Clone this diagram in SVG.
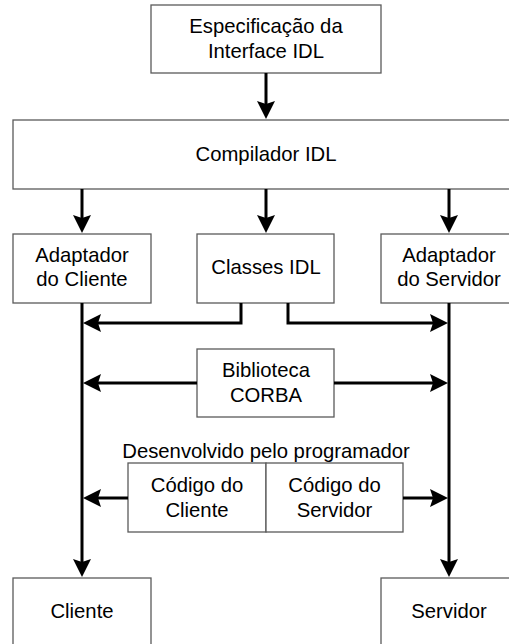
<svg xmlns="http://www.w3.org/2000/svg" width="509" height="644" viewBox="0 0 509 644">
<style>
.box{fill:#fff;stroke:#5a5a5a;stroke-width:1.3}
.t{font-family:"Liberation Sans",Arial,sans-serif;font-size:20.3px;fill:#000;text-anchor:middle}
.c{fill:none;stroke:#000;stroke-width:3}
</style>
<defs>
<marker id="ah" markerUnits="userSpaceOnUse" markerWidth="19" markerHeight="19" viewBox="0 0 19 19" refX="8" refY="9" orient="auto">
<path d="M0,0 L18,9 L0,18 L3,9 z" fill="#000"/>
</marker>
</defs>
<rect width="509" height="644" fill="#fff"/>
<g id="spec"><rect class="box" x="151" y="5" width="230" height="68"/>
<text class="t" x="266" y="33">Especificação da</text><text class="t" x="266" y="58">Interface IDL</text></g>
<g id="compilador"><rect class="box" x="13" y="120" width="500" height="69"/>
<text class="t" x="266" y="161">Compilador IDL</text></g>
<g id="adapt-cliente"><rect class="box" x="13" y="234" width="138" height="69"/>
<text class="t" x="82" y="262">Adaptador</text><text class="t" x="82" y="286">do Cliente</text></g>
<g id="classes"><rect class="box" x="197" y="234" width="137" height="69"/>
<text class="t" x="266" y="274">Classes IDL</text></g>
<g id="adapt-servidor"><rect class="box" x="381" y="234" width="132" height="69"/>
<text class="t" x="449" y="262">Adaptador</text><text class="t" x="449" y="286">do Servidor</text></g>
<g id="biblioteca"><rect class="box" x="197" y="349" width="137" height="68"/>
<text class="t" x="266" y="377">Biblioteca</text><text class="t" x="266" y="402">CORBA</text></g>
<g id="desenvolvido"><text class="t" x="266" y="458">Desenvolvido pelo programador</text></g>
<g id="codigo-cliente"><rect class="box" x="128" y="463" width="138" height="69"/>
<text class="t" x="197" y="492">Código do</text><text class="t" x="197" y="517">Cliente</text></g>
<g id="codigo-servidor"><rect class="box" x="266" y="463" width="137" height="69"/>
<text class="t" x="334.5" y="492">Código do</text><text class="t" x="334.5" y="517">Servidor</text></g>
<g id="cliente"><rect class="box" x="13" y="578" width="138" height="80"/>
<text class="t" x="82" y="618">Cliente</text></g>
<g id="servidor"><rect class="box" x="381" y="578" width="132" height="80"/>
<text class="t" x="449" y="618">Servidor</text></g>
<g id="connectors">
<path class="c" marker-end="url(#ah)" d="M266,73 V109"/>
<path class="c" marker-end="url(#ah)" d="M82,189 V223"/>
<path class="c" marker-end="url(#ah)" d="M266,189 V223"/>
<path class="c" marker-end="url(#ah)" d="M449,189 V223"/>
<path class="c" marker-end="url(#ah)" d="M82,303 V567"/>
<path class="c" marker-end="url(#ah)" d="M449,303 V567"/>
<path class="c" marker-end="url(#ah)" d="M241,303 V323 H93"/>
<path class="c" marker-end="url(#ah)" d="M288,303 V323 H438"/>
<path class="c" marker-end="url(#ah)" d="M197,383 H93"/>
<path class="c" marker-end="url(#ah)" d="M334,383 H438"/>
<path class="c" marker-end="url(#ah)" d="M128,498 H93"/>
<path class="c" marker-end="url(#ah)" d="M403,498 H438"/>
</g>
</svg>
